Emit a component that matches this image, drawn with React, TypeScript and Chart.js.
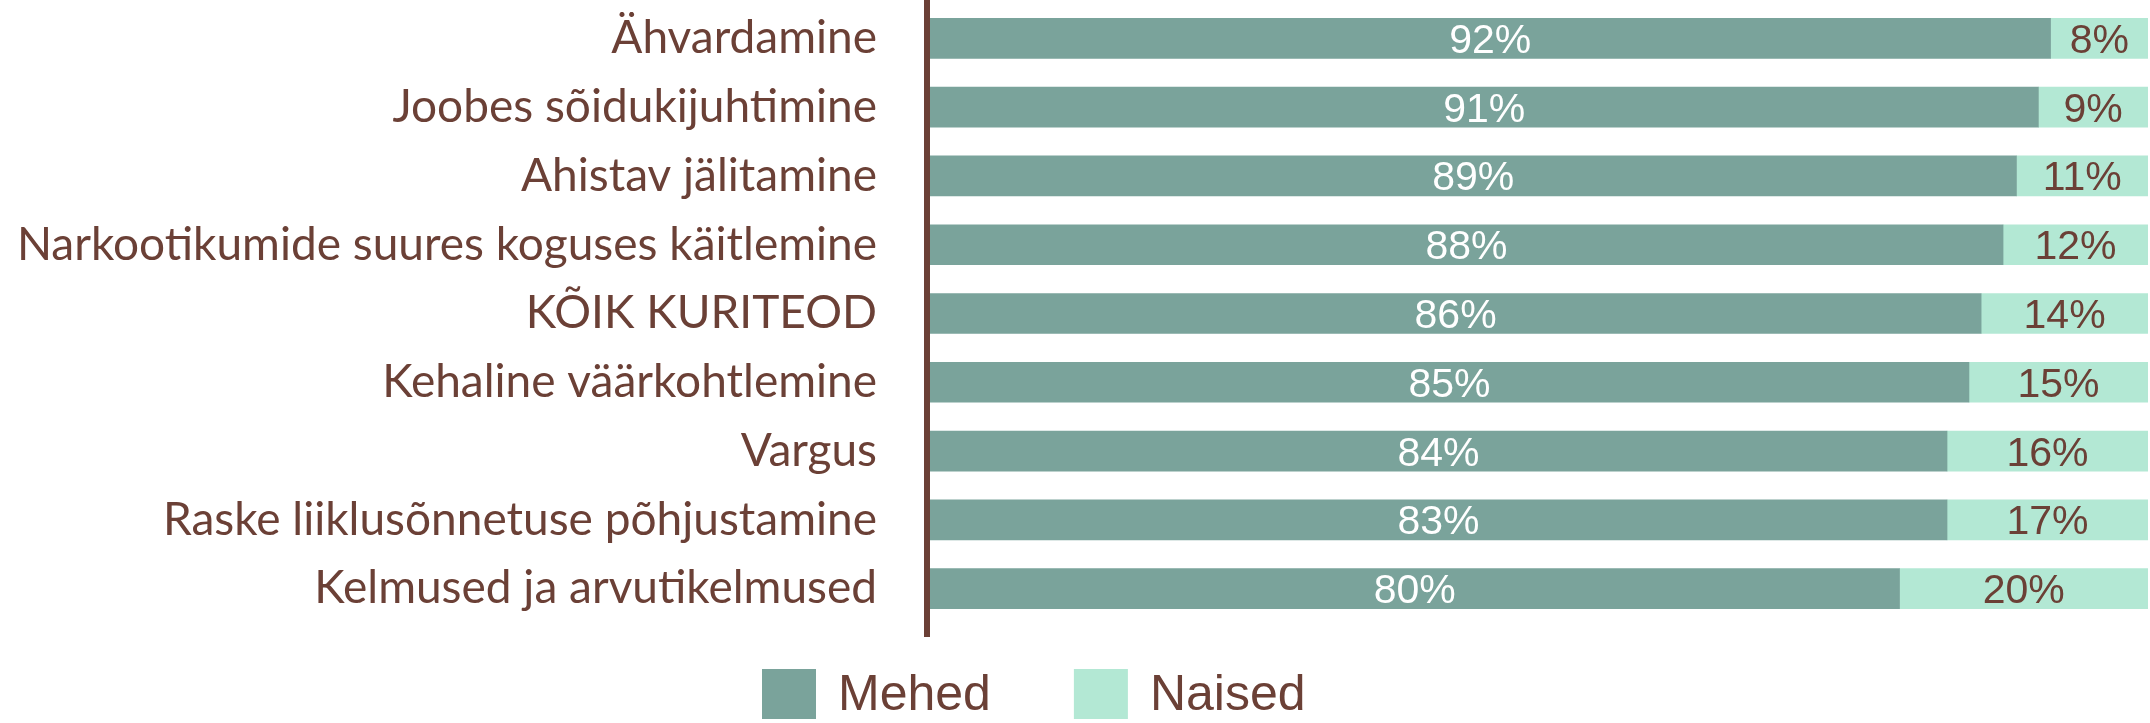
import React, { useEffect, useRef } from "react";
import { Chart, registerables } from "chart.js";

Chart.register(...registerables);

const categories = [
  "Ähvardamine",
  "Joobes sõidukijuhtimine",
  "Ahistav jälitamine",
  "Narkootikumide suures koguses käitlemine",
  "KÕIK KURITEOD",
  "Kehaline väärkohtlemine",
  "Vargus",
  "Raske liiklusõnnetuse põhjustamine",
  "Kelmused ja arvutikelmused",
];
const seriesNames = ["Mehed", "Naised"];
const menValues = [92, 91, 89.2, 88.1, 86.3, 85.3, 83.5, 83.5, 79.6];
const womenValues = [8, 9, 10.8, 11.9, 13.7, 14.7, 16.5, 16.5, 20.4];
const menLabels = [92, 91, 89, 88, 86, 85, 84, 83, 80];
const womenLabels = [8, 9, 11, 12, 14, 15, 16, 17, 20];

const MEN_COLOR = "#7aa39b";
const WOMEN_COLOR = "#b3e8d4";
const BROWN = "#6b4036";
const LABEL_FONT = "Lato";
const VALUE_FONT = "'Liberation Sans', Arial, sans-serif";

const W = 2150;
const H = 723;

const axisLinePlugin = {
  id: "axisLine",
  afterDatasetsDraw(chart: any) {
    const { ctx, chartArea } = chart;
    ctx.save();
    ctx.fillStyle = BROWN;
    ctx.fillRect(chartArea.left - 6, 0, 6, chartArea.bottom + 14);
    ctx.restore();
  },
};

const valueLabelPlugin = {
  id: "valueLabels",
  afterDatasetsDraw(chart: any) {
    const { ctx } = chart;
    const sets = [
      { labels: menLabels, color: "#ffffff" },
      { labels: womenLabels, color: BROWN },
    ];
    ctx.save();
    ctx.font = `41px ${VALUE_FONT}`;
    ctx.textAlign = "center";
    ctx.textBaseline = "alphabetic";
    sets.forEach((s, i) => {
      const meta = chart.getDatasetMeta(i);
      meta.data.forEach((bar: any, j: number) => {
        const p = bar.getProps(["x", "y", "base"], true);
        const cx = (p.x + p.base) / 2;
        ctx.fillStyle = s.color;
        ctx.fillText(`${s.labels[j]}%`, cx, p.y + 14.5);
      });
    });
    ctx.restore();
  },
};

const LEGEND_LEFT = 762;
const LEGEND_CY = 694;
const customLegendPlugin = {
  id: "customLegend",
  afterDraw(chart: any) {
    const { ctx } = chart;
    ctx.save();
    ctx.font = `50px ${VALUE_FONT}`;
    ctx.textBaseline = "middle";
    ctx.textAlign = "left";
    let x = LEGEND_LEFT;
    chart.data.datasets.forEach((ds: any) => {
      ctx.fillStyle = ds.backgroundColor;
      ctx.fillRect(x, LEGEND_CY - 25, 54, 50);
      x += 54 + 22;
      ctx.fillStyle = BROWN;
      ctx.fillText(ds.label, x, LEGEND_CY + 2);
      x += ctx.measureText(ds.label).width + 83;
    });
    ctx.restore();
  },
};

export default function App() {
  const ref = useRef<HTMLCanvasElement>(null);
  useEffect(() => {
    if (!ref.current) return;
    const chart = new Chart(ref.current, {
      type: "bar",
      data: {
        labels: categories,
        datasets: [
          { label: seriesNames[0], data: menValues, backgroundColor: MEN_COLOR, barThickness: 40 },
          { label: seriesNames[1], data: womenValues, backgroundColor: WOMEN_COLOR, barThickness: 40 },
        ],
      },
      options: {
        indexAxis: "y",
        responsive: false,
        animation: false,
        layout: { padding: { top: 4, bottom: 100, right: 2, left: 0 } },
        plugins: {
          legend: { display: false },
          tooltip: { enabled: false },
          title: { display: false },
        },
        scales: {
          x: { stacked: true, min: 0, max: 100, display: false },
          y: {
            stacked: true,
            grid: { display: false, drawTicks: false },
            border: { display: false },
            ticks: {
              color: BROWN,
              padding: 53,
              font: { family: LABEL_FONT, size: 46 },
            },
            afterFit: (s: any) => {
              s.width = 930;
              s.paddingTop = 0;
              s.paddingBottom = 0;
            },
          },
        },
      },
      plugins: [axisLinePlugin, valueLabelPlugin, customLegendPlugin],
    });
    return () => chart.destroy();
  }, []);
  return (
    <div style={{ position: "absolute", left: 0, top: 0, width: W, height: H, background: "#fff" }}>
      <canvas ref={ref} width={W} height={H} style={{ display: "block" }} />
    </div>
  );
}
